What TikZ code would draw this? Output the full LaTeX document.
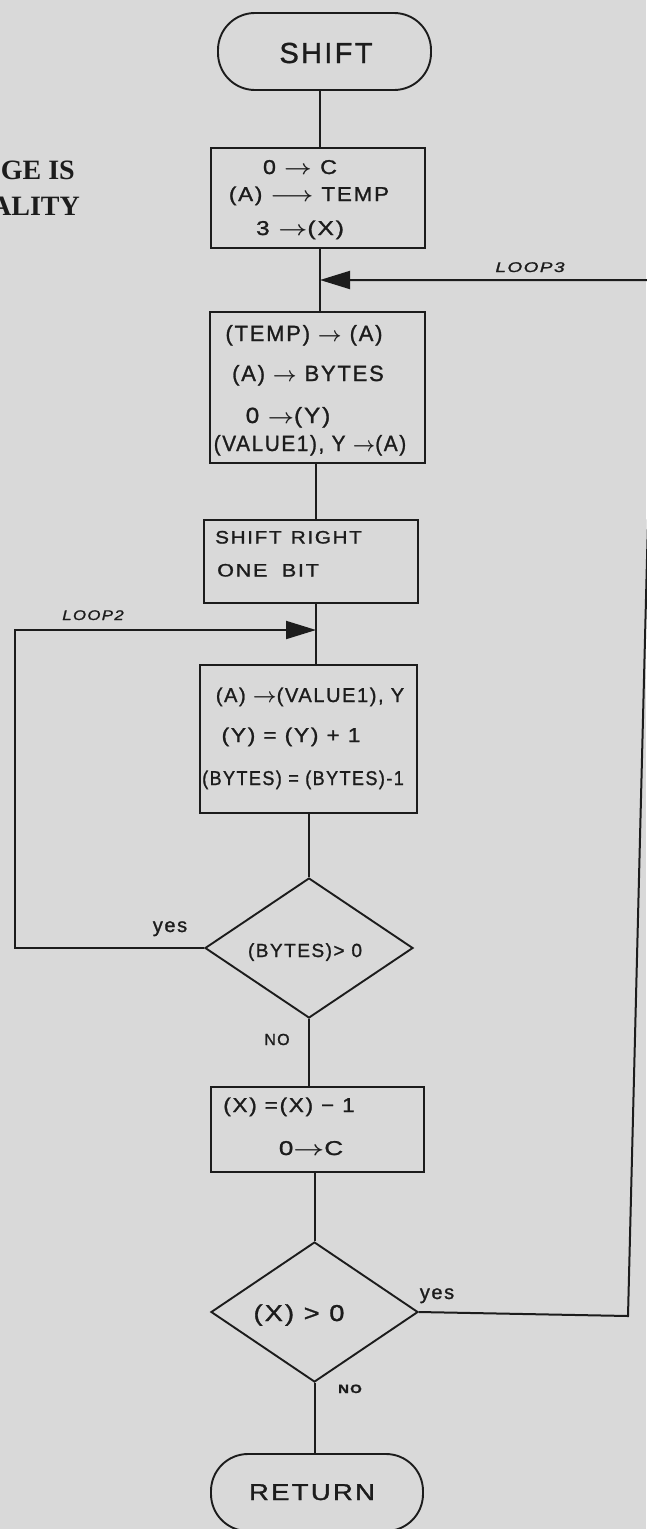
\documentclass[tikz,border=0pt]{standalone}
\usepackage{fontspec}
\usepackage{graphicx}
\usetikzlibrary{shapes.geometric,arrows.meta}
\newfontfamily\hand[LetterSpace=8,FakeBold=1.2]{Liberation Sans}
\newfontfamily\stampfont{Liberation Serif}
\definecolor{paper}{RGB}{217,217,217}
\definecolor{ink}{RGB}{28,28,28}
\newcommand{\fsz}[1]{\fontsize{#1}{#1}\selectfont}
\newcommand{\hsq}[2]{\scalebox{#1}[1]{#2}}
\newcommand{\ra}{\ensuremath{\boldsymbol{\rightarrow}}}
\newcommand{\lra}{\ensuremath{\boldsymbol{\longrightarrow}}}
\usepackage{amsmath}
\begin{document}
\begin{tikzpicture}[x=1pt,y=-1pt,
  box/.style={draw=ink, line width=2.2pt, rectangle, inner sep=0pt},
  term/.style={draw=ink, line width=1.9pt, rectangle, rounded corners=37pt, inner sep=0pt},
  dec/.style={draw=ink, line width=1.9pt, diamond, inner sep=0pt},
  conn/.style={draw=ink, line width=2pt},
  txt/.style={inner sep=0pt, anchor=base, text=ink},
  arr/.style={-{Triangle[length=30pt,width=18pt]}}
]
\fill[paper] (0,0) rectangle (646,1529);
\useasboundingbox (0,0) rectangle (646,1529);

% stamp text cut off at left edge
\node[txt, anchor=base east, font=\stampfont\bfseries\fsz{28}] (st1) at (75,179) {GE IS};
\node[txt, anchor=base east, font=\stampfont\bfseries\fsz{28}] (st2) at (80,215) {ALITY};

% shapes
\node[term, minimum width=213pt, minimum height=77pt] (shift) at (324.5,51.5) {};
\node[box, minimum width=214pt, minimum height=100pt] (box1) at (318,198) {};
\node[box, minimum width=215pt, minimum height=151pt] (box2) at (317.5,387.5) {};
\node[box, minimum width=214pt, minimum height=83pt] (box3) at (311,561.5) {};
\node[box, minimum width=217pt, minimum height=148pt] (box4) at (308.5,739) {};
\node[dec, minimum width=208pt, minimum height=140pt] (d1) at (309,948) {};
\node[box, minimum width=213pt, minimum height=85pt] (box5) at (317.5,1129.5) {};
\node[dec, minimum width=207pt, minimum height=140pt] (d2) at (314.5,1312) {};
\node[term, minimum width=212pt, minimum height=77pt] (ret) at (317,1492.5) {};

% texts
\node[txt, font=\hand\fsz{29}] (tshift) at (326,63) {SHIFT};
\node[txt, font=\hand\fsz{20}] (t1a) at (300,174) {\hsq{1.16}{0 \ra{} C}};
\node[txt, font=\hand\fsz{20}] (t1b) at (309,201) {\hsq{1.12}{(A) \lra{} TEMP}};
\node[txt, font=\hand\fsz{20}] (t1c) at (300,235) {\hsq{1.22}{3 \ra(X)}};
\node[txt, font=\hand\fsz{22}] (t2a) at (304,341) {(TEMP) \ra{} (A)};
\node[txt, font=\hand\fsz{22}] (t2b) at (308,381) {(A) \ra{} BYTES};
\node[txt, font=\hand\fsz{22}] (t2c) at (288,423) {\hsq{1.1}{0 \ra(Y)}};
\node[txt, font=\hand\fsz{22}] (t2d) at (310,451) {\hsq{0.94}{(VALUE1), Y \ra(A)}};
\node[txt, anchor=base west, font=\hand\fsz{18}] (t3a) at (215,543.5) {\hsq{1.15}{SHIFT\hspace{8pt}RIGHT}};
\node[txt, anchor=base west, font=\hand\fsz{18}] (t3b) at (217,576.5) {\hsq{1.2}{ONE\hspace{12pt}BIT}};
\node[txt, font=\hand\fsz{20}] (t4a) at (310,702) {(A) \ra(VALUE1), Y};
\node[txt, font=\hand\fsz{20}] (t4b) at (291,742) {\hsq{1.13}{(Y) = (Y) + 1}};
\node[txt, font=\hand\fsz{20}] (t4c) at (303,785) {\hsq{0.9}{(BYTES) = (BYTES)-1}};
\node[txt, font=\hand\fsz{19}] (td1) at (305,957) {(BYTES)> 0};
\node[txt, font=\hand\fsz{20}] (t5a) at (289,1112) {\hsq{1.12}{(X) =(X) − 1}};
\node[txt, font=\hand\fsz{20}] (t5b) at (311,1155) {\hsq{1.3}{0\ra C}};
\node[txt, font=\hand\fsz{23}] (td2) at (299,1321) {\hsq{1.18}{(X) > 0}};
\node[txt, font=\hand\fsz{23}] (tret) at (312,1500) {\hsq{1.2}{RETURN}};

% labels
\node[txt, font=\hand\itshape\fsz{14}] (lp3) at (530,272) {\hsq{1.35}{LOOP3}};
\node[txt, font=\hand\itshape\fsz{14}] (lp2) at (93,620) {\hsq{1.2}{LOOP2}};
\node[txt, font=\hand\fsz{20}] (y1) at (170,932) {yes};
\node[txt, font=\hand\fsz{16}] (n1) at (277,1045) {NO};
\node[txt, font=\hand\fsz{20}] (y2) at (437,1299) {yes};
\node[txt, font=\hand\bfseries\fsz{12}] (n2) at (350,1393) {\hsq{1.25}{NO}};

% spine coordinates
\coordinate (s1) at (320,0);
\coordinate (s2) at (316,0);
\coordinate (l3tip) at (320,280);
\coordinate (r1) at (628,1316);
\coordinate (r2) at (654,280);
\coordinate (l2a) at (15,948);
\coordinate (l2b) at (15,630);
\coordinate (l2tip) at (316,630);

% connectors
\draw[conn] (shift.south -| s1) -- (box1.north -| s1);
\draw[conn] (box1.south -| s1) -- (box2.north -| s1);
\draw[conn] (box2.south -| s2) -- (box3.north -| s2);
\draw[conn] (box3.south -| s2) -- (box4.north -| s2);
\draw[conn] (box4.south -| d1.north) -- (d1.north);
\draw[conn] (d1.south) -- (d1.south |- box5.north);
\draw[conn] (box5.south -| d2.north) -- (d2.north);
\draw[conn] (d2.south) -- (d2.south |- ret.north);
\draw[conn, arr] (d1.west) -- (l2a) -- (l2b) -- (l2tip);
\draw[conn, arr] (d2.east) -- (r1) -- (r2) -- (l3tip);
\end{tikzpicture}
\end{document}
